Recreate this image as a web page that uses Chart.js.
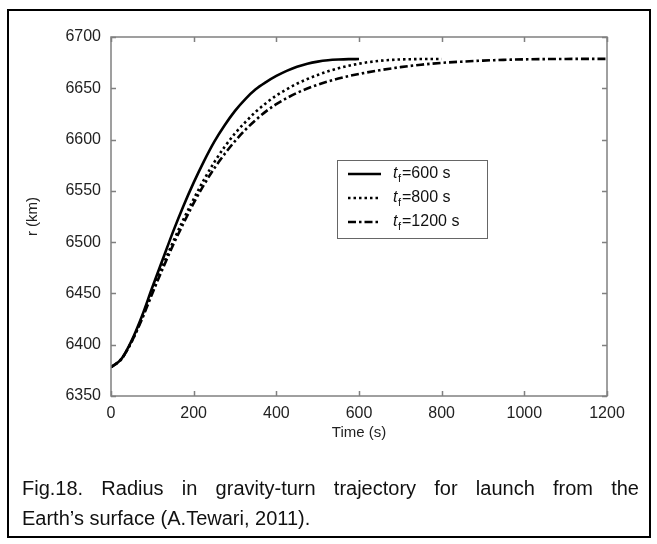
<!DOCTYPE html>
<html><head><meta charset="utf-8">
<script src="https://cdn.jsdelivr.net/npm/chart.js@4.4.0/dist/chart.umd.min.js"></script>
<style>
html,body{margin:0;padding:0;background:#fff;}
#wrap{position:relative;width:657px;height:544px;overflow:hidden;background:#fff;}
#frame{position:absolute;left:7px;top:9px;width:640px;height:525px;border:2px solid #000;pointer-events:none;}
#cv{position:absolute;left:0;top:0;}
.cap{position:absolute;left:22px;width:617px;font-family:"Liberation Sans",Arial,sans-serif;font-size:20px;color:#111;line-height:30px;white-space:nowrap;}
#cap1{top:473px;text-align:justify;text-align-last:justify;white-space:normal;}
#cap2{top:503px;}
</style></head>
<body>
<div id="wrap">
<canvas id="cv" width="657" height="544"></canvas>
<div id="frame"></div>
<div class="cap" id="cap1">Fig.18. Radius in gravity-turn trajectory for launch from the</div>
<div class="cap" id="cap2">Earth’s surface (A.Tewari, 2011).</div>
</div>
<script>
// ---- data ----
const seriesNames = ["600", "800", "1200"];
const xTicks = [0, 200, 400, 600, 800, 1000, 1200];
const yTicks = [6350, 6400, 6450, 6500, 6550, 6600, 6650, 6700];

const t600 = [0,25,50,75,100,125,150,175,200,225,250,275,300,325,350,375,400,425,450,475,500,525,550,575,600];
const r600 = [6378,6386,6404,6428,6456,6483,6510,6535,6558,6579,6598,6614,6628,6639.5,6649,6656,6662,6667,6671,6674,6676,6677.3,6678,6678.4,6678.5];

const t800 = [0,25,50,75,100,125,150,175,200,225,250,275,300,325,350,375,400,425,450,475,500,525,550,575,600,625,650,675,700,750,800];
const r800 = [6378,6386,6403,6426,6452,6477,6500,6522,6542,6561,6578,6593,6606,6617,6627,6635.5,6643,6649,6654.5,6659,6663,6666.5,6669.5,6672,6674,6675.6,6676.8,6677.6,6678.1,6678.5,6678.6];

const t1200 = [0,25,50,75,100,125,150,175,200,225,250,275,300,325,350,375,400,450,500,550,600,650,700,750,800,850,900,950,1000,1100,1200];
const r1200 = [6378,6386,6403,6425,6450,6474,6497,6518,6538,6556,6572,6586,6598.5,6609.5,6619,6627.5,6634.5,6645.5,6653.5,6659.5,6664,6667.6,6670.6,6673,6674.8,6676,6677,6677.7,6678.2,6678.6,6678.7];

const pts = (t, r) => t.map((v, i) => ({x: v, y: r[i]}));

const styles = [
  {dash: [], width: 2.6},
  {dash: [2.5, 3], width: 2.6},
  {dash: [8, 3, 2.5, 3], width: 2.6}
];

const FONT = '"Liberation Sans", Arial, sans-serif';

const framePlugin = {
  id: 'frameTicksLegend',
  afterDraw(chart) {
    const {ctx, chartArea: a, scales: {x, y}} = chart;
    ctx.save();
    ctx.strokeStyle = '#808080';
    ctx.lineWidth = 1.5;
    ctx.strokeRect(a.left, a.top, a.right - a.left, a.bottom - a.top);
    ctx.beginPath();
    const L = 5;
    x.ticks.forEach(tk => {
      const px = Math.round(x.getPixelForValue(tk.value)) + 0.5;
      ctx.moveTo(px, a.bottom); ctx.lineTo(px, a.bottom - L);
      ctx.moveTo(px, a.top); ctx.lineTo(px, a.top + L);
    });
    y.ticks.forEach(tk => {
      const py = Math.round(y.getPixelForValue(tk.value)) + 0.5;
      ctx.moveTo(a.left, py); ctx.lineTo(a.left + L, py);
      ctx.moveTo(a.right, py); ctx.lineTo(a.right - L, py);
    });
    ctx.stroke();

    // legend box
    const lx = a.left + 226, ly = a.top + 123, lw = 150, lh = 78;
    ctx.fillStyle = '#fff';
    ctx.fillRect(lx, ly, lw, lh);
    ctx.strokeStyle = '#666';
    ctx.lineWidth = 1;
    ctx.strokeRect(lx + 0.5, ly + 0.5, lw, lh);
    chart.data.datasets.forEach((ds, i) => {
      const yy = ly + 14 + i * 24;
      ctx.strokeStyle = '#000';
      ctx.lineWidth = ds.borderWidth;
      ctx.setLineDash(ds.borderDash || []);
      ctx.beginPath();
      ctx.moveTo(lx + 11, yy); ctx.lineTo(lx + 44, yy);
      ctx.stroke();
      ctx.setLineDash([]);
      ctx.fillStyle = '#111';
      ctx.textBaseline = 'middle';
      let tx = lx + 56;
      ctx.font = 'italic 16px ' + FONT;
      ctx.fillText('t', tx, yy);
      tx += ctx.measureText('t').width + 0.5;
      ctx.font = '11px ' + FONT;
      ctx.fillText('f', tx, yy + 5);
      tx += ctx.measureText('f').width + 1;
      ctx.font = '16px ' + FONT;
      ctx.fillText('=' + seriesNames[i] + ' s', tx, yy);
    });
    ctx.restore();
  }
};

new Chart(document.getElementById('cv'), {
  type: 'line',
  data: {
    datasets: [
      {label: 'tf=600 s', data: pts(t600, r600)},
      {label: 'tf=800 s', data: pts(t800, r800)},
      {label: 'tf=1200 s', data: pts(t1200, r1200)}
    ].map((d, i) => Object.assign(d, {
      borderColor: '#000', backgroundColor: '#000',
      borderWidth: styles[i].width, borderDash: styles[i].dash,
      pointRadius: 0, fill: false, tension: 0.4, cubicInterpolationMode: 'monotone',
      borderCapStyle: 'butt', borderJoinStyle: 'round'
    }))
  },
  options: {
    responsive: false,
    animation: false,
    devicePixelRatio: 1,
    layout: {padding: {top: 37, right: 50, left: 0, bottom: 88}},
    plugins: {legend: {display: false}, tooltip: {enabled: false}},
    scales: {
      x: {
        type: 'linear', min: 0, max: 1200,
        afterBuildTicks: s => { s.ticks = xTicks.map(v => ({value: v})); },
        afterFit: s => { s.height = 60; },
        grid: {display: false, drawTicks: false},
        border: {display: false},
        ticks: {padding: 8, color: '#222', font: {family: FONT, size: 16}, maxRotation: 0, callback: v => String(v)},
        title: {display: true, text: 'Time (s)', color: '#222', font: {family: FONT, size: 15}, padding: {top: 0, bottom: 14}}
      },
      y: {
        type: 'linear', min: 6350, max: 6700,
        afterBuildTicks: s => { s.ticks = yTicks.map(v => ({value: v})); },
        afterFit: s => { s.width = 111; },
        grid: {display: false, drawTicks: false},
        border: {display: false},
        ticks: {padding: 10, color: '#222', font: {family: FONT, size: 16}, callback: v => String(v)},
        title: {display: true, text: 'r (km)', color: '#222', font: {family: FONT, size: 15}, padding: {top: 24, bottom: 0}}
      }
    }
  },
  plugins: [framePlugin]
});
</script>
</body></html>
